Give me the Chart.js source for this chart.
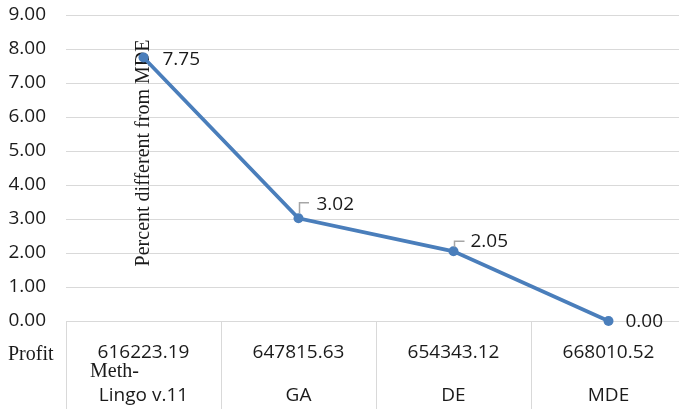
<!DOCTYPE html>
<html>
<head>
<meta charset="utf-8">
<script src="https://cdn.jsdelivr.net/npm/chart.js@4/dist/chart.umd.min.js"></script>
<style>
  html, body { margin: 0; padding: 0; background: #fff; overflow: hidden; width: 679px; height: 409px; }
  #wrap { position: relative; width: 700px; height: 409px; }
</style>
</head>
<body>
<div id="wrap"><canvas id="c" width="700" height="409"></canvas></div>
<script>
// Method names, their profit figures and percentage gap to MDE
const methods = ['Lingo v.11', 'GA', 'DE', 'MDE'];
const profits = ['616223.19', '647815.63', '654343.12', '668010.52'];
const percentDiff = [7.75, 3.02, 2.05, 0.00];
const yTicks = [0, 1, 2, 3, 4, 5, 6, 7, 8, 9];

const SANS = '"Open Sans", "Noto Sans", sans-serif';
const SERIF = '"Liberation Serif", "DejaVu Serif", serif';
const TEXT = '#1a1a1a';
const GRID = '#d9d9d9';
const LINE = '#4a7ebb';

// Where each value label sits relative to its point, and its leader line (if any)
const labelPlacement = [
  { dx: 19, dy: 2, leader: null },
  { dx: 18, dy: -14, leader: { x: 1, y0: -5, y1: -15.5, x1: 10.5 } },
  { dx: 17, dy: -10, leader: { x: 1, y0: -4, y1: -10, x1: 11 } },
  { dx: 17, dy: 1, leader: null }
];

const decorations = {
  id: 'decorations',
  beforeDatasetsDraw(chart) {
    const ctx = chart.ctx;
    const xs = chart.scales.x;
    const area = chart.chartArea;
    ctx.save();
    ctx.fillStyle = TEXT;
    ctx.font = '20px ' + SERIF;
    // rotated value-axis caption
    ctx.translate(xs.getPixelForValue(0) + 5, area.top + 138);
    ctx.rotate(-Math.PI / 2);
    ctx.textAlign = 'center';
    ctx.textBaseline = 'alphabetic';
    ctx.fillText('Percent different from MDE', 0, 0);
    ctx.restore();
  },
  afterDatasetsDraw(chart) {
    const ctx = chart.ctx;
    const meta = chart.getDatasetMeta(0);
    const area = chart.chartArea;
    ctx.save();
    meta.data.forEach((pt, i) => {
      const p = labelPlacement[i];
      if (p.leader) {
        const L = p.leader;
        ctx.strokeStyle = '#a6a6a6';
        ctx.lineWidth = 1.5;
        ctx.beginPath();
        ctx.moveTo(pt.x + L.x, pt.y + L.y0);
        ctx.lineTo(pt.x + L.x, pt.y + L.y1);
        ctx.lineTo(pt.x + L.x1, pt.y + L.y1);
        ctx.stroke();
      }
      ctx.fillStyle = TEXT;
      ctx.font = '19px ' + SANS;
      ctx.textAlign = 'left';
      ctx.textBaseline = 'middle';
      ctx.fillText(percentDiff[i].toFixed(2), pt.x + p.dx, pt.y + p.dy);
    });
    // table row headers beneath the axis
    ctx.fillStyle = TEXT;
    ctx.font = '20px ' + SERIF;
    ctx.textAlign = 'left';
    ctx.textBaseline = 'middle';
    ctx.fillText('Profit', 8, area.bottom + 34);
    ctx.fillText('Meth-', 90, area.bottom + 51);
    ctx.restore();
  }
};

new Chart(document.getElementById('c'), {
  type: 'line',
  data: {
    labels: methods.map((m, i) => [profits[i], m]),
    datasets: [{
      data: percentDiff,
      borderColor: LINE,
      backgroundColor: LINE,
      borderWidth: 3.75,
      pointRadius: 5,
      pointHoverRadius: 5,
      pointBackgroundColor: LINE,
      pointBorderWidth: 0,
      tension: 0,
      fill: false,
      clip: false
    }]
  },
  options: {
    responsive: false,
    animation: false,
    devicePixelRatio: 1,
    layout: { padding: { top: 15, right: 14, left: 0, bottom: 0 } },
    plugins: { legend: { display: false }, tooltip: { enabled: false } },
    scales: {
      x: {
        offset: true,
        grid: {
          display: true,
          offset: true,
          drawOnChartArea: false,
          drawTicks: true,
          tickLength: 88,
          color: GRID,
          lineWidth: 1
        },
        border: { display: true, color: GRID, width: 1 },
        ticks: {
          color: TEXT,
          font: { family: SANS, size: 19, lineHeight: '43px' },
          padding: -78,
          maxRotation: 0,
          autoSkip: false
        },
        afterFit(scale) {
          scale.height = 88;
          scale.paddingLeft = 0;
          scale.paddingRight = 0;
        }
      },
      y: {
        min: 0,
        max: 9,
        afterBuildTicks(scale) { scale.ticks = yTicks.map(v => ({ value: v })); },
        grid: { color: GRID, lineWidth: 1, drawTicks: false },
        border: { display: false },
        ticks: {
          color: TEXT,
          font: { family: SANS, size: 19 },
          padding: 20,
          callback: v => Number(v).toFixed(2)
        },
        afterFit(scale) {
          scale.width = 66;
          scale.paddingTop = 0;
          scale.paddingBottom = 0;
        }
      }
    }
  },
  plugins: [decorations]
});
</script>
</body>
</html>
